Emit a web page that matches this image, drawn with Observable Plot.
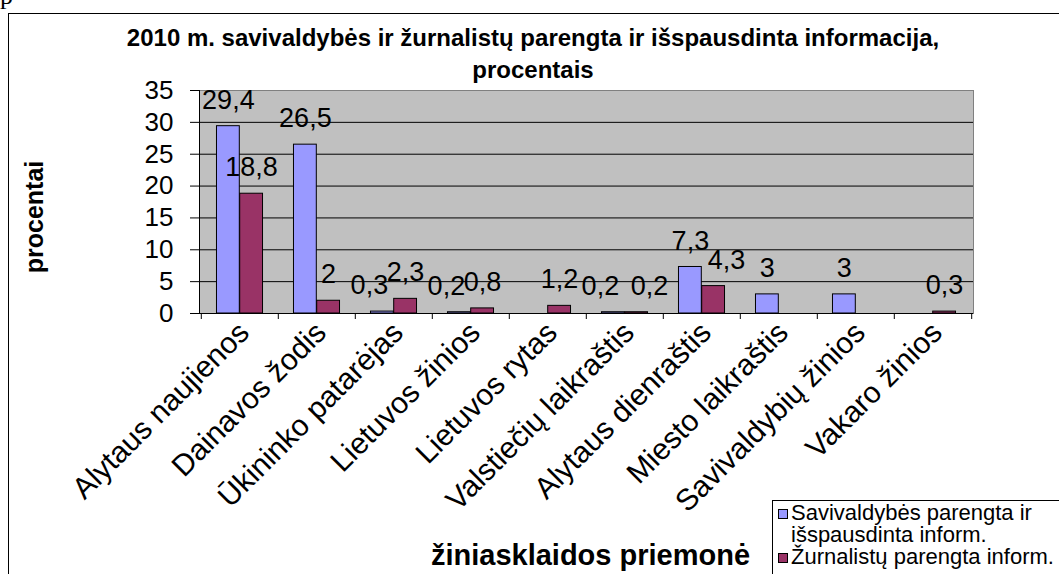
<!DOCTYPE html>
<html>
<head>
<meta charset="utf-8">
<script src="https://cdn.jsdelivr.net/npm/d3@7"></script>
<script src="https://cdn.jsdelivr.net/npm/@observablehq/plot@0.6"></script>
<style>
  html, body { margin: 0; padding: 0; background: white; }
  #wrap { position: relative; width: 1059px; height: 574px; overflow: hidden; background: white; font-family: "Liberation Sans", Arial, sans-serif; }
  #chart { position: absolute; left: 0; top: 0; }
  #frag { position: absolute; left: 0px; top: -17px; font-family: "Liberation Serif", "Times New Roman", serif; font-size: 26px; line-height: 26px; }
  #border { position: absolute; left: 8px; top: 13px; width: 3000px; height: 3000px; border: 1px solid black; box-sizing: border-box; pointer-events: none; }
  #title { position: absolute; left: 0; top: 22px; width: 1066px; text-align: center; font-weight: bold; font-size: 24px; line-height: 32px; }
  #legend { position: absolute; left: 772px; top: 500px; width: 600px; height: 400px; border: 1px solid black; background: white; box-sizing: border-box; padding: 1px 0 0 5px; font-size: 22px; line-height: 22px; }
  .entry { display: flex; align-items: flex-start; }
  .sw { width: 8px; height: 8px; border: 1px solid black; margin-top: 7px; margin-right: 3px; flex: none; }
  .lt { width: 275px; }
</style>
</head>
<body>
<div id="wrap">
  <div id="chart"></div>
  <div id="frag">p</div>
  <div id="border"></div>
  <div id="title"></div>
  <div id="legend"></div>
</div>
<script>
const categories = ["Alytaus naujienos", "Dainavos žodis", "Ūkininko patarėjas", "Lietuvos žinios", "Lietuvos rytas", "Valstiečių laikraštis", "Alytaus dienraštis", "Miesto laikraštis", "Savivaldybių žinios", "Vakaro žinios"];
const savivaldybes = [29.4, 26.5, 0.3, 0.2, null, 0.2, 7.3, 3, 3, null];
const zurnalistu = [18.8, 2, 2.3, 0.8, 1.2, 0.2, 4.3, null, null, 0.3];
const yTicks = [0, 5, 10, 15, 20, 25, 30, 35];
const seriesLabels = ["Savivaldybės parengta ir išspausdinta inform.", "Žurnalistų parengta inform."];
const seriesColors = ["#9999ff", "#993366"];
const titleLines = ["2010 m. savivaldybės ir žurnalistų parengta ir išspausdinta informacija,", "procentais"];
const yTitle = "procentai";
const xTitle = "žiniasklaidos priemonė";

const FONT = '"Liberation Sans", Arial, sans-serif';
const W = 1059, H = 574, ML = 199, MR = 86, MT = 90, MB = 261;
const bw = (W - ML - MR) / categories.length;

const rows = categories.map((c, i) => ({cat: c, sav: savivaldybes[i], zur: zurnalistu[i]}));

// value labels; when the two labels of a pair would collide, the lower one is pushed outward
const labels = [];
rows.forEach(r => {
  const both = r.sav != null && r.zur != null;
  const close = both && Math.abs(r.sav - r.zur) <= 3;
  if (r.sav != null) labels.push({cat: r.cat, value: r.sav, s: 0, shift: close && r.sav <= r.zur ? -1 : 0});
  if (r.zur != null) labels.push({cat: r.cat, value: r.zur, s: 1, shift: close && r.zur <= r.sav ? 1 : 0});
});
const fmt = v => String(v).replace(".", ",");

const textMarks = [];
for (const s of [0, 1]) {
  for (const k of [-1, 0, 1]) {
    const d = labels.filter(l => l.s === s && l.shift === k);
    if (!d.length) continue;
    textMarks.push(Plot.text(d, {
      x: "cat", y: "value", text: l => fmt(l.value),
      dx: (s === 0 ? -0.15 : 0.15) * bw + k * 13, dy: -26,
      fontSize: 27, fill: "black"
    }));
  }
}

const chart = Plot.plot({
  width: W, height: H,
  marginLeft: ML, marginRight: MR, marginTop: MT, marginBottom: MB,
  style: {background: "transparent", fontFamily: FONT, color: "black"},
  x: {domain: categories, padding: 0, label: null},
  y: {domain: [0, 35], label: null},
  marks: [
    Plot.frame({fill: "#c0c0c0", stroke: null}),
    Plot.ruleY(yTicks.filter(t => t > 0 && t < 35), {stroke: "black"}),
    Plot.ruleY([35], {stroke: "#808080"}),
    Plot.frame({anchor: "right", stroke: "#808080"}),
    Plot.barY(rows, {x: "cat", y: "sav", fill: seriesColors[0], stroke: "black", strokeWidth: 1, insetLeft: 0.2 * bw, insetRight: 0.5 * bw}),
    Plot.barY(rows, {x: "cat", y: "zur", fill: seriesColors[1], stroke: "black", strokeWidth: 1, insetLeft: 0.5 * bw, insetRight: 0.2 * bw}),
    Plot.ruleY([0], {stroke: "black"}),
    Plot.frame({anchor: "left", stroke: "black"}),
    Plot.axisY({ticks: yTicks, tickSize: 9, tickPadding: 17, fontSize: 26, tickFormat: d => String(d), label: null}),
    Plot.axisX({tickSize: 6, tickFormat: () => "", dx: -bw / 2, label: null}),
    Plot.axisX({ticks: [categories[categories.length - 1]], tickSize: 6, tickFormat: () => "", dx: bw / 2, label: null}),
    Plot.axisX({tickSize: 0, tickRotate: -45, tickPadding: 14, dx: 4, fontSize: 30, label: null}),
    ...textMarks,
    Plot.text([yTitle], {frameAnchor: "left", dx: -165, dy: 15, rotate: -90, textAnchor: "middle", text: d => d, fontSize: 25, fontWeight: "bold"}),
    Plot.text([xTitle], {frameAnchor: "bottom", dx: 4, dy: 251, text: d => d, fontSize: 29, fontWeight: "bold"})
  ]
});
document.getElementById("chart").appendChild(chart);

document.getElementById("title").innerHTML = titleLines.map(t => `<div>${t}</div>`).join("");
document.getElementById("legend").innerHTML = seriesLabels.map((t, i) =>
  `<div class="entry"><div class="sw" style="background:${seriesColors[i]}"></div><div class="lt">${t}</div></div>`
).join("");
</script>
</body>
</html>
